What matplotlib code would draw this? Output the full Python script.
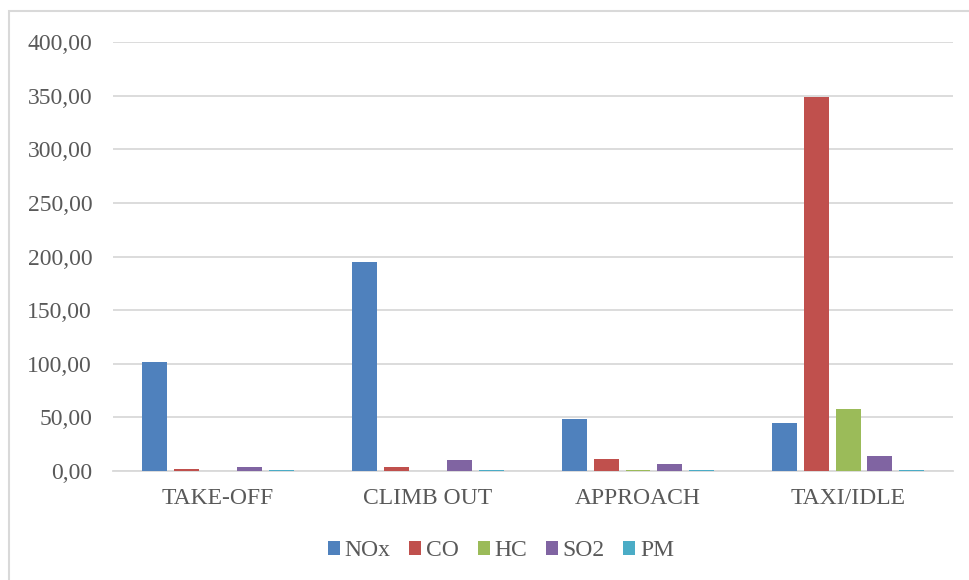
import numpy as np
import matplotlib.pyplot as plt
from matplotlib.ticker import FuncFormatter
from matplotlib.patches import Rectangle

# emissions per LTO phase
phases = ['TAKE-OFF', 'CLIMB OUT', 'APPROACH', 'TAXI/IDLE']
nox = [102.0, 195.0, 48.8, 45.0]
co = [1.5, 3.7, 10.9, 349.0]
hc = [0.2, 0.3, 0.8, 57.5]
so2 = [3.5, 10.3, 6.5, 14.0]
pm = [0.5, 1.2, 0.5, 1.2]

series = [('NOx', nox, '#4F81BD'), ('CO', co, '#C0504D'), ('HC', hc, '#9BBB59'),
          ('SO2', so2, '#8064A2'), ('PM', pm, '#4BACC6')]

plt.rcParams['font.family'] = ['Liberation Serif', 'DejaVu Serif']
txt = '#595959'
grid = '#d9d9d9'

fig = plt.figure(figsize=(9.69, 5.80), dpi=100)
ax = fig.add_axes([0.1166, 0.1879, 0.8669, 0.7397])

x = np.arange(len(phases))
step = 0.152
w = 0.119
for i, (name, vals, col) in enumerate(series):
    ax.bar(x + (i - 2) * step, vals, w, color=col, label=name, zorder=3)

ax.set_xlim(-0.5, len(phases) - 0.5)
ax.set_ylim(0, 400)
ax.set_yticks(np.arange(0, 401, 50))
ax.yaxis.set_major_formatter(FuncFormatter(lambda v, p: f'{v:.2f}'.replace('.', ',')))
ax.set_xticks(x)
ax.set_xticklabels(phases)
ax.tick_params(length=0, labelsize=17, colors=txt)
ax.tick_params(axis='y', pad=15)
ax.tick_params(axis='x', pad=12)
ax.grid(axis='y', color=grid, linewidth=1.3, zorder=0)
for s in ['top', 'right', 'left']:
    ax.spines[s].set_visible(False)
ax.spines['bottom'].set_color(grid)
ax.spines['bottom'].set_linewidth(1.3)

fig.legend(loc='center', bbox_to_anchor=(0.517, 0.05), ncol=5, frameon=False,
           fontsize=17, labelcolor=txt, handlelength=0.5, handleheight=0.5,
           handletextpad=0.2, columnspacing=0.8)

# chart area border
fig.patches.append(Rectangle((9 / 969, -0.1), 1.2, 1 - 11 / 580 + 0.1,
                             transform=fig.transFigure, fill=False,
                             edgecolor=grid, linewidth=1.5))

fig.savefig('out.png', dpi=100)
